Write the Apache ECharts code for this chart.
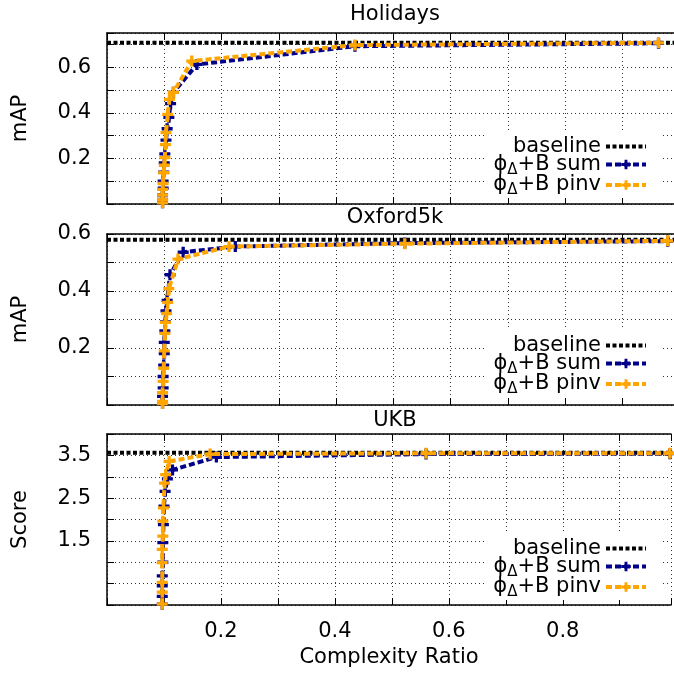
<!DOCTYPE html>
<html>
<head>
<meta charset="utf-8">
<title>Complexity Ratio</title>
<script src="https://cdn.jsdelivr.net/npm/echarts@6/dist/echarts.min.js"></script>
<style>
    html,body{margin:0;padding:0;background:#fff;}
    #chart{width:674px;height:673px;}
</style>
</head>
<body>
<div id="chart"></div>
<script>
// 数据
var panelTitles=['Holidays','Oxford5k','UKB'];
var yNames=['mAP','mAP','Score'];
var yMin=[0,0,0];
var yMax=[0.75,0.6,4];
var yStep=[0.1,0.1,0.5];
var yTickLabels=[[0.2,0.4,0.6],[0.2,0.4,0.6],[1.5,2.5,3.5]];
var xTickLabels=[0.2,0.4,0.6,0.8];
var baselines=[0.707,0.58,3.56];

var holidaysSum=[[0.097,0.005],[0.097,0.02],[0.097,0.04],[0.098,0.07],[0.098,0.10],[0.099,0.14],[0.100,0.18],[0.101,0.22],[0.103,0.28],[0.105,0.33],[0.108,0.38],[0.111,0.44],[0.116,0.49],[0.157,0.612],[0.433,0.692],[0.963,0.705]];
var holidaysPinv=[[0.097,0.005],[0.097,0.02],[0.097,0.04],[0.097,0.064],[0.098,0.09],[0.099,0.137],[0.100,0.17],[0.101,0.203],[0.102,0.26],[0.103,0.313],[0.106,0.393],[0.109,0.459],[0.116,0.49],[0.148,0.627],[0.433,0.697],[0.963,0.707]];
var oxfordSum=[[0.097,0.005],[0.097,0.03],[0.098,0.06],[0.098,0.10],[0.099,0.14],[0.100,0.18],[0.100,0.22],[0.101,0.26],[0.102,0.292],[0.103,0.33],[0.105,0.367],[0.110,0.457],[0.133,0.536],[0.224,0.556],[0.52,0.568],[0.979,0.575]];
var oxfordPinv=[[0.097,0.005],[0.097,0.013],[0.097,0.043],[0.098,0.083],[0.099,0.129],[0.100,0.19],[0.101,0.251],[0.102,0.29],[0.104,0.321],[0.106,0.36],[0.108,0.408],[0.124,0.512],[0.213,0.556],[0.52,0.566],[0.979,0.576]];
var ukbSum=[[0.097,0.02],[0.097,0.2],[0.097,0.45],[0.097,0.68],[0.098,1.0],[0.098,1.46],[0.099,1.88],[0.100,2.31],[0.102,2.66],[0.106,2.95],[0.115,3.16],[0.192,3.46],[0.56,3.53],[0.988,3.54]];
var ukbPinv=[[0.097,0.02],[0.097,0.3],[0.097,0.53],[0.097,0.99],[0.097,1.3],[0.098,1.61],[0.098,1.96],[0.099,2.27],[0.101,2.85],[0.103,3.05],[0.109,3.36],[0.181,3.53],[0.56,3.55],[0.988,3.55]];

var sumData=[holidaysSum,oxfordSum,ukbSum];
var pinvData=[holidaysPinv,oxfordPinv,ukbPinv];

var font='DejaVu Sans';
var fs=21;
var plusPath='path://M3.5,0h3v3.5h3.5v3h-3.5v3.5h-3v-3.5h-3.5v-3h3.5z';
var gridTops=[33,234,434];
var titleTops=[-1,202,405];
var legendTops=[130,329,532];

function hasTick(list,v) {
    for(var i=0;i<list.length;i++){
        if(Math.abs(list[i]-v)<1e-6) return true;
    }
    return false;
}

function legendName(name) {
    if(name=='sum') return '{t|ϕ}{s|Δ}{t|+B sum}';
    if(name=='pinv') return '{t|ϕ}{s|Δ}{t|+B pinv}';
    return '{t|'+name+'}';
}

function buildOption() {
    var res={title:[],grid:[],xAxis:[],yAxis:[],legend:[],series:[]};
    for(var i=0;i<3;i++){
        res.title.push({
            text:panelTitles[i],
            left:390,
            top:titleTops[i],
            textAlign:'center',
            textStyle:{fontFamily:font,fontSize:fs,fontWeight:'normal',color:'#000'}
        });
        res.grid.push({left:107,right:0,top:gridTops[i],height:171});
        // 下方x轴
        res.xAxis.push({
            type:'value',gridIndex:i,min:0,max:0.99,interval:0.1,
            axisLine:{lineStyle:{color:'#000',width:1.5}},
            axisTick:{inside:true,length:7,lineStyle:{color:'#000'}},
            axisLabel:{
                show:i==2,margin:16,color:'#000',fontFamily:font,fontSize:fs,
                formatter:function (v) { return hasTick(xTickLabels,v)?v.toFixed(1):''; }
            },
            splitLine:{show:true,lineStyle:{color:'#333',type:[1,3],width:1}},
            name:i==2?'Complexity Ratio':'',
            nameLocation:'middle',nameGap:42,
            nameTextStyle:{color:'#000',fontFamily:font,fontSize:fs}
        });
        var tl=yTickLabels[i];
        res.yAxis.push({
            type:'value',gridIndex:i,min:yMin[i],max:yMax[i],interval:yStep[i],
            axisLine:{show:true,lineStyle:{color:'#000',width:1.5}},
            axisTick:{show:true,inside:true,length:7,lineStyle:{color:'#000'}},
            axisLabel:{
                margin:16,color:'#000',fontFamily:font,fontSize:fs,
                formatter:(function (list) {
                    return function (v) { return hasTick(list,v)?v.toFixed(1):''; };
                })(tl)
            },
            splitLine:{show:true,lineStyle:{color:'#333',type:[1,3],width:1}},
            name:yNames[i],nameLocation:'middle',nameRotate:90,nameGap:76,
            nameTextStyle:{color:'#000',fontFamily:font,fontSize:fs}
        });
        res.legend.push({
            data:['baseline','sum','pinv'],
            orient:'vertical',align:'right',
            right:11,top:legendTops[i],
            backgroundColor:'#fff',
            padding:[6,15,0,8],
            itemWidth:40,itemHeight:12,itemGap:-6.5,
            selectedMode:false,
            formatter:legendName,
            lineStyle:{width:4},
            textStyle:{
                color:'#000',fontFamily:font,fontSize:fs,
                rich:{
                    t:{fontFamily:font,fontSize:fs,color:'#000',lineHeight:26},
                    s:{fontFamily:font,fontSize:15,color:'#000',lineHeight:14,padding:[12,0,0,0],verticalAlign:'bottom'}
                }
            }
        });
    }
    // 上方x轴（边框）
    for(var i=0;i<3;i++){
        res.xAxis.push({
            type:'value',gridIndex:i,position:'top',min:0,max:0.99,interval:0.1,
            axisLine:{lineStyle:{color:'#000',width:1.5}},
            axisTick:{inside:true,length:7,lineStyle:{color:'#000'}},
            axisLabel:{show:false},
            splitLine:{show:false}
        });
    }
    for(var i=0;i<3;i++){
        res.series.push({
            name:'baseline',type:'line',xAxisIndex:i,yAxisIndex:i,
            data:[[0,baselines[i]],[1,baselines[i]]],
            symbol:'none',
            itemStyle:{color:'rgba(0,0,0,0)'},
            lineStyle:{color:'#000',width:4,type:[4,2.5]},
            z:3
        });
        res.series.push({
            name:'sum',type:'line',xAxisIndex:i,yAxisIndex:i,
            data:sumData[i],
            symbol:plusPath,symbolSize:11,color:'#00008b',
            itemStyle:{color:'#00008b'},
            lineStyle:{color:'#00008b',width:4,type:[6,3]},
            z:4
        });
        res.series.push({
            name:'pinv',type:'line',xAxisIndex:i,yAxisIndex:i,
            data:pinvData[i],
            symbol:plusPath,symbolSize:11,color:'#ffa500',
            itemStyle:{color:'#ffa500'},
            lineStyle:{color:'#ffa500',width:4,type:[6,3]},
            z:5
        });
    }
    return res;
}

var myChart=echarts.init(document.getElementById('chart'));
var res=buildOption();
var option={
    animation:false,
    backgroundColor:'#fff',
    title:res.title,
    grid:res.grid,
    xAxis:res.xAxis,
    yAxis:res.yAxis,
    legend:res.legend,
    series:res.series
};
myChart.setOption(option);
</script>
</body>
</html>
